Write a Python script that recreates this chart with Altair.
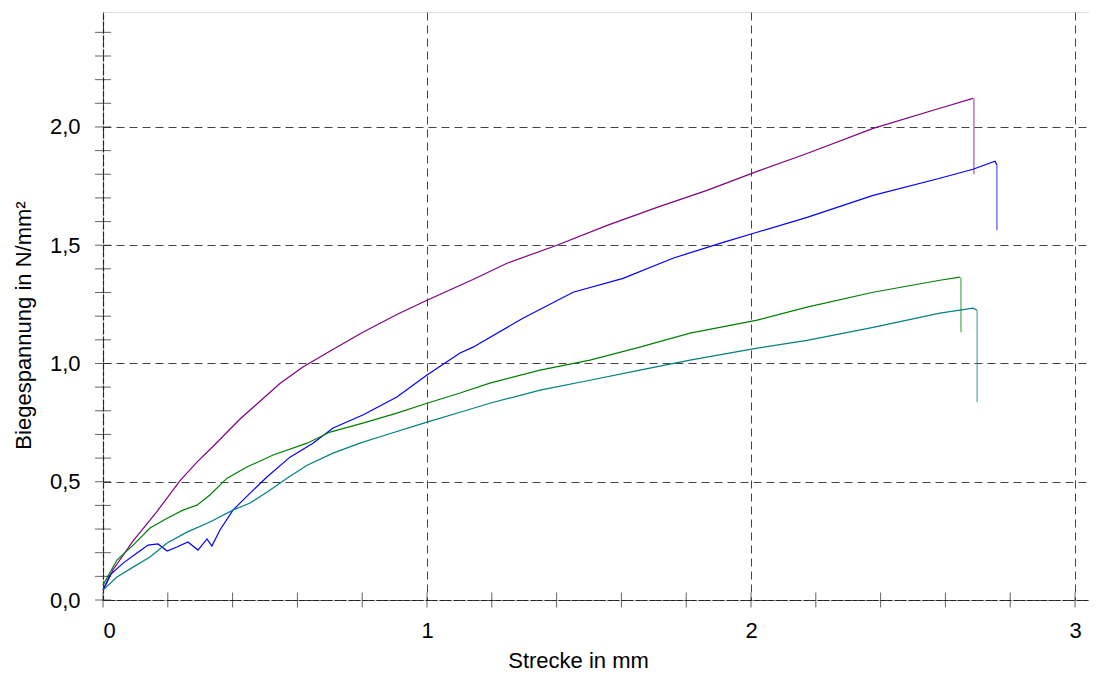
import altair as alt
import pandas as pd

series_names = ["Probe 1", "Probe 2", "Probe 3", "Probe 4"]
series_colors = ["#800080", "#0000FF", "#008000", "#008080"]

purple_x = [0.0, 0.032, 0.093, 0.167, 0.238, 0.29, 0.34, 0.423, 0.546, 0.617, 0.70, 0.802, 0.907, 1.0,
            1.142, 1.247, 1.401, 1.556, 1.71, 1.864, 2.019, 2.173, 2.377, 2.583, 2.685]
purple_y = [0.04, 0.13, 0.25, 0.375, 0.505, 0.583, 0.65, 0.765, 0.915, 0.985, 1.052, 1.132, 1.207, 1.267,
            1.355, 1.424, 1.50, 1.584, 1.66, 1.732, 1.812, 1.888, 1.994, 2.079, 2.121]

blue_x = [0.0, 0.022, 0.062, 0.105, 0.139, 0.17, 0.198, 0.228, 0.262, 0.293, 0.321, 0.336, 0.361,
          0.401, 0.454, 0.506, 0.577, 0.648, 0.71, 0.802, 0.907, 1.0, 1.102, 1.142, 1.296, 1.451,
          1.605, 1.759, 1.914, 2.019, 2.173, 2.377, 2.583, 2.685, 2.753, 2.759]
blue_y = [0.042, 0.106, 0.156, 0.199, 0.232, 0.237, 0.207, 0.224, 0.245, 0.211, 0.258, 0.228, 0.296,
          0.38, 0.452, 0.52, 0.604, 0.663, 0.727, 0.782, 0.858, 0.951, 1.044, 1.069, 1.191, 1.301,
          1.36, 1.445, 1.512, 1.555, 1.618, 1.711, 1.783, 1.821, 1.855, 1.838]

green_x = [0.0, 0.043, 0.093, 0.145, 0.198, 0.247, 0.29, 0.33, 0.383, 0.444, 0.525, 0.63, 0.701,
           0.802, 0.907, 1.0, 1.102, 1.194, 1.349, 1.503, 1.657, 1.812, 2.019, 2.173, 2.377, 2.583,
           2.645]
green_y = [0.063, 0.169, 0.232, 0.304, 0.346, 0.38, 0.401, 0.444, 0.515, 0.562, 0.613, 0.663, 0.71,
           0.748, 0.79, 0.832, 0.875, 0.917, 0.972, 1.014, 1.069, 1.128, 1.183, 1.238, 1.301, 1.352,
           1.365]

teal_x = [0.0, 0.043, 0.093, 0.145, 0.198, 0.259, 0.33, 0.401, 0.454, 0.506, 0.568, 0.63, 0.71,
          0.793, 0.855, 1.0, 1.102, 1.194, 1.349, 1.503, 1.657, 1.812, 2.019, 2.173, 2.377, 2.583,
          2.685, 2.698]
teal_y = [0.042, 0.097, 0.139, 0.182, 0.241, 0.287, 0.33, 0.38, 0.41, 0.456, 0.515, 0.57, 0.621,
          0.663, 0.69, 0.752, 0.794, 0.832, 0.887, 0.929, 0.972, 1.014, 1.065, 1.098, 1.153, 1.213,
          1.234, 1.225]

drop_x = [2.688, 2.759, 2.648, 2.698]
drop_top = [2.121, 1.838, 1.365, 1.225]
drop_bottom = [1.80, 1.563, 1.132, 0.836]

x_tick_labels = [0, 1, 2, 3]
y_tick_labels = [0.0, 0.5, 1.0, 1.5, 2.0]
x_minor_ticks = [0.0, 0.2, 0.4, 0.6, 0.8, 1.0, 1.2, 1.4, 1.6, 1.8, 2.0, 2.2, 2.4, 2.6, 2.8, 3.0]
y_minor_ticks = [0.0, 0.1, 0.2, 0.3, 0.4, 0.5, 0.6, 0.7, 0.8, 0.9, 1.0, 1.1, 1.2, 1.3, 1.4, 1.5,
                 1.6, 1.7, 1.8, 1.9, 2.0, 2.1, 2.2, 2.3, 2.4]

FONT = "Liberation Sans"
X_MAX = 3.0432
Y_MAX = 2.486

rows = []
for name, xs, ys in zip(series_names, [purple_x, blue_x, green_x, teal_x],
                        [purple_y, blue_y, green_y, teal_y]):
    for i, (xv, yv) in enumerate(zip(xs, ys)):
        rows.append({"series": name, "x": xv, "y": yv, "i": i})
df = pd.DataFrame(rows)

drops = pd.DataFrame({"series": series_names, "x": drop_x, "y": drop_top, "y2": drop_bottom})
xt = pd.DataFrame({"x": x_minor_ticks, "y": [0.0] * len(x_minor_ticks)})
yt = pd.DataFrame({"y": y_minor_ticks, "x": [0.0] * len(y_minor_ticks)})

xscale = alt.Scale(domain=[0, X_MAX], nice=False, zero=False)
yscale = alt.Scale(domain=[0, Y_MAX], nice=False, zero=False)
cscale = alt.Scale(domain=series_names, range=series_colors)

x_axis = alt.Axis(
    values=x_tick_labels, format="d", title="Strecke in mm", ticks=False, tickSize=0,
    labelPadding=20, labelFontSize=22, labelFont=FONT, labelColor="#000",
    titleFontSize=22, titleFont=FONT, titleFontWeight="normal", titleColor="#000",
    titleX=475, titleY=67, titleAlign="center", titleBaseline="alphabetic",
    grid=True, gridDash=[8, 5], gridColor="#444", gridWidth=1,
    domain=True, domainColor="#222", domainDash=[5, 2], domainWidth=1.2,
)
y_axis = alt.Axis(
    values=y_tick_labels, title="Biegespannung in N/mm²", ticks=False, tickSize=0,
    labelExpr="replace(format(datum.value, '.1f'), '.', ',')",
    labelPadding=23, labelFontSize=22, labelFont=FONT, labelColor="#000",
    titleFontSize=22, titleFont=FONT, titleFontWeight="normal", titleColor="#000",
    titleX=-80, titleY=313, titleAngle=-90, titleAlign="center", titleBaseline="middle",
    grid=True, gridDash=[8, 5], gridColor="#444", gridWidth=1,
    domain=True, domainColor="#222", domainDash=[5, 2], domainWidth=1.2,
)

lines = alt.Chart(df).mark_line(strokeWidth=1.2).encode(
    x=alt.X("x:Q", scale=xscale, axis=x_axis),
    y=alt.Y("y:Q", scale=yscale, axis=y_axis),
    color=alt.Color("series:N", scale=cscale, legend=None),
    order="i:Q",
    detail="series:N",
)

drop_rules = alt.Chart(drops).mark_rule(strokeWidth=1.5, opacity=0.55).encode(
    x=alt.X("x:Q", scale=xscale),
    y=alt.Y("y:Q", scale=yscale),
    y2="y2:Q",
    color=alt.Color("series:N", scale=cscale, legend=None),
)

x_ticks = alt.Chart(xt).mark_tick(orient="vertical", size=15, thickness=1, color="#222").encode(
    x=alt.X("x:Q", scale=xscale),
    y=alt.Y("y:Q", scale=yscale),
)
y_ticks = alt.Chart(yt).mark_tick(orient="horizontal", size=16, thickness=1, color="#222").encode(
    x=alt.X("x:Q", scale=xscale),
    y=alt.Y("y:Q", scale=yscale),
)

chart = alt.layer(drop_rules, lines, x_ticks, y_ticks).properties(
    width=986, height=588,
    autosize=alt.AutoSizeParams(type="none"),
    padding={"left": 95, "top": 4, "right": 0, "bottom": 72},
).configure_view(stroke=None).configure(background="white")

chart.save("out.html", embed_options={"renderer": "svg", "actions": False})
